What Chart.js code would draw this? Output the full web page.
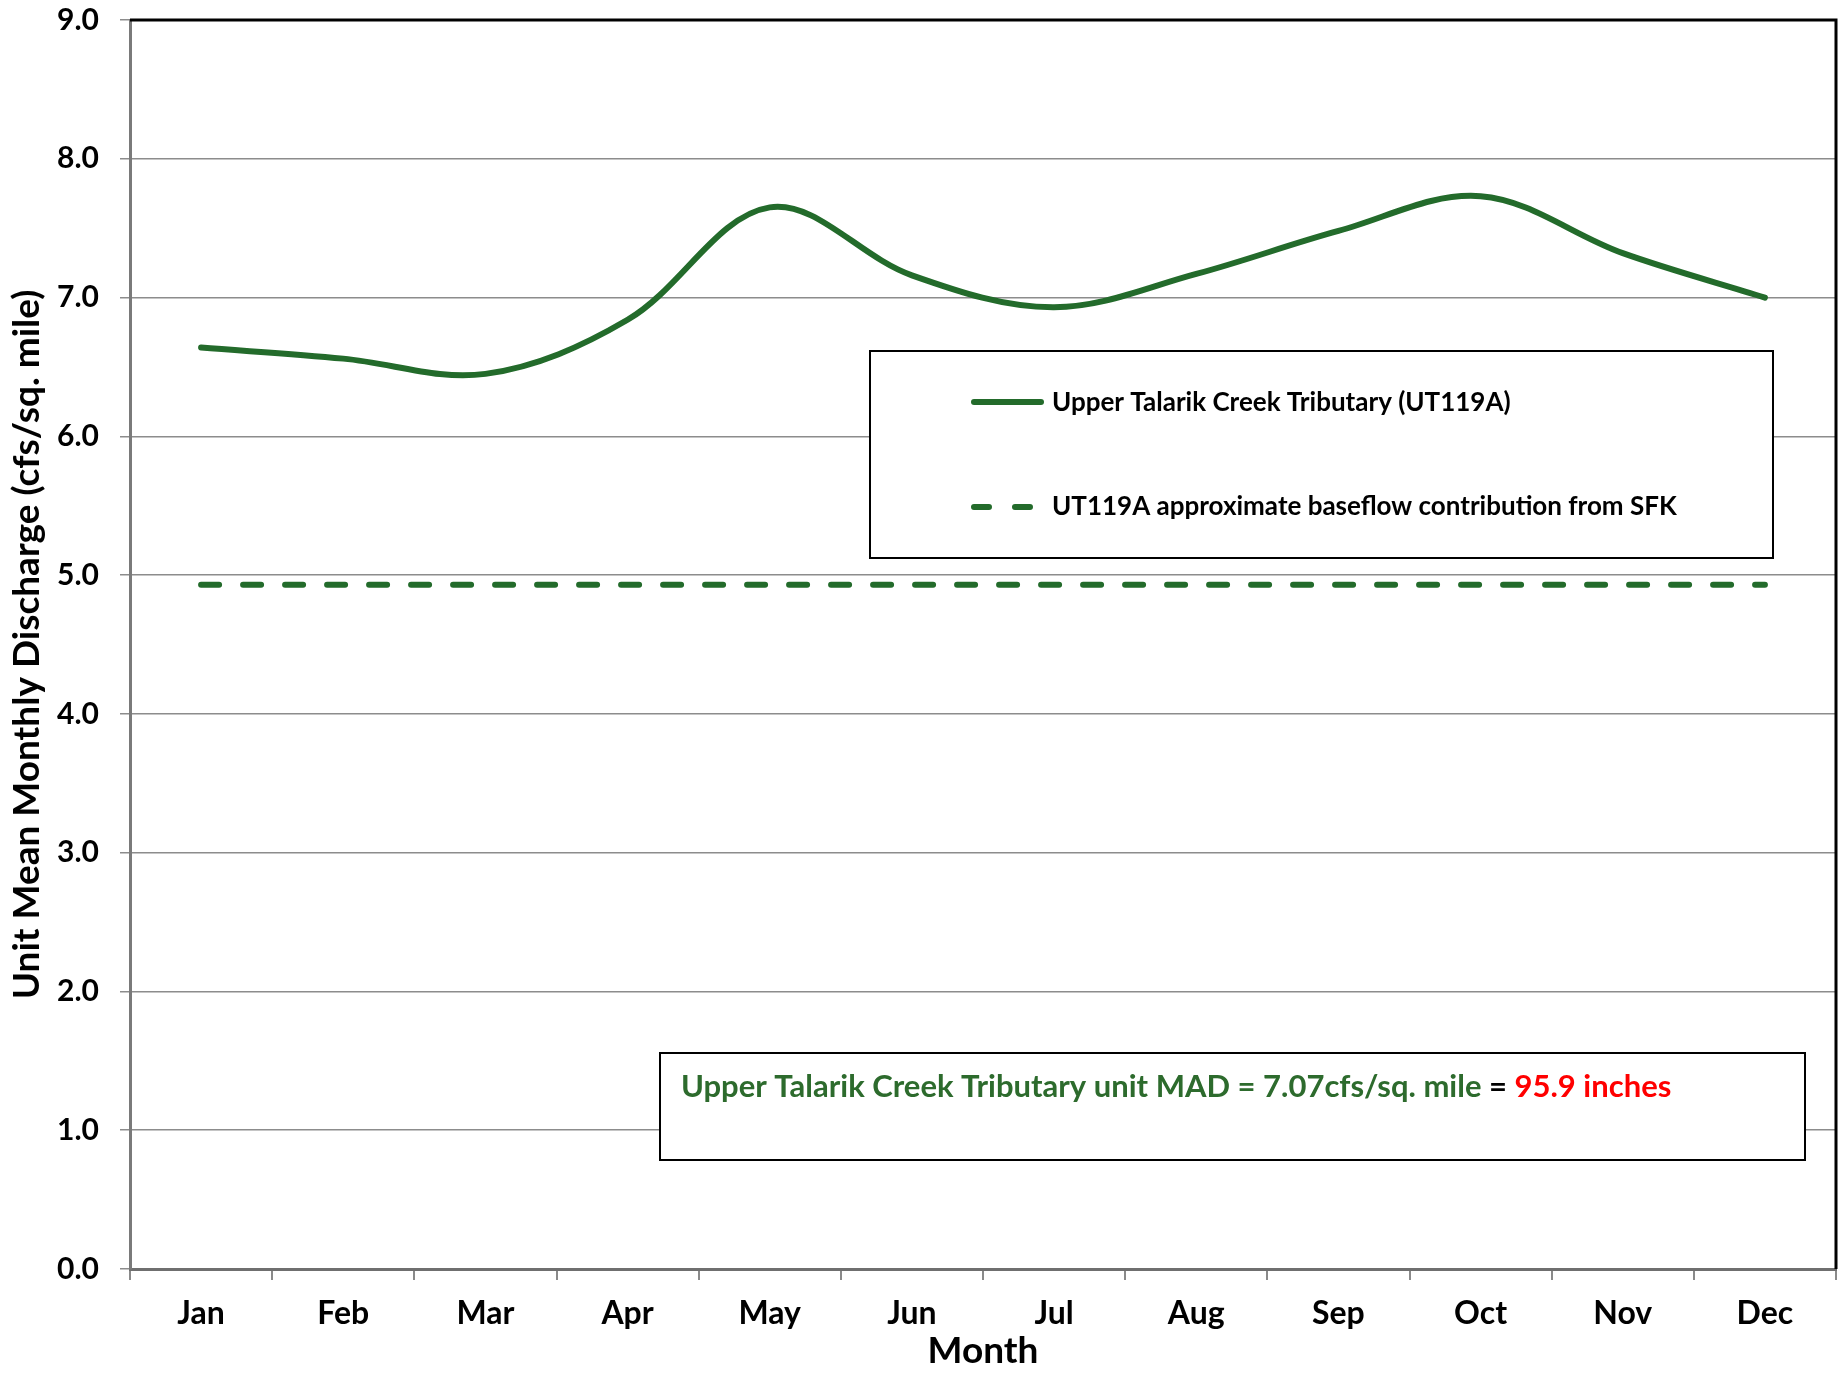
<!DOCTYPE html>
<html>
<head>
<meta charset="utf-8">
<script src="https://cdn.jsdelivr.net/npm/chart.js@4.4.1/dist/chart.umd.min.js"></script>
<style>
html,body{margin:0;padding:0;background:#ffffff;}
#wrap{width:1839px;height:1373px;position:relative;}
</style>
</head>
<body>
<div id="wrap"><canvas id="c" width="1839" height="1373"></canvas></div>
<script>
// ---- data ----
const months = ["Jan","Feb","Mar","Apr","May","Jun","Jul","Aug","Sep","Oct","Nov","Dec"];
const unitDischarge = [6.64, 6.56, 6.45, 6.84, 7.65, 7.16, 6.93, 7.17, 7.48, 7.73, 7.32, 7.00];
const baseflow = [4.93, 4.93, 4.93, 4.93, 4.93, 4.93, 4.93, 4.93, 4.93, 4.93, 4.93, 4.93];
const yMin = 0, yMax = 9, yStep = 1;
const seriesNames = ["Upper Talarik Creek Tributary (UT119A)", "UT119A approximate baseflow contribution from SFK"];
const yTitle = "Unit Mean Monthly Discharge (cfs/sq. mile)";
const xTitle = "Month";
const madGreen = "Upper Talarik Creek Tributary unit MAD = 7.07cfs/sq. mile";
const madEq = " = ";
const madRed = "95.9 inches";

const GREEN = "#236b2b";
const FONT = 'Lato, "Open Sans", "DejaVu Sans", sans-serif';
Chart.defaults.font.family = FONT;

const overlay = {
  id: 'overlay',
  afterDraw(chart) {
    const ctx = chart.ctx;
    const a = chart.chartArea;
    ctx.save();
    // top and right plot borders
    ctx.strokeStyle = '#000';
    ctx.lineWidth = 3;
    ctx.beginPath();
    ctx.moveTo(a.left, a.top);
    ctx.lineTo(a.right, a.top);
    ctx.lineTo(a.right, a.bottom);
    ctx.stroke();

    // legend box
    ctx.fillStyle = '#fff';
    ctx.fillRect(870, 351, 903, 207);
    ctx.lineWidth = 2;
    ctx.strokeStyle = '#000';
    ctx.strokeRect(870, 351, 903, 207);
    ctx.lineCap = 'round';
    ctx.strokeStyle = GREEN;
    ctx.lineWidth = 6;
    ctx.beginPath();
    ctx.moveTo(974, 402); ctx.lineTo(1041, 402);
    ctx.stroke();
    ctx.setLineDash([15, 26]);
    ctx.beginPath();
    ctx.moveTo(974, 507); ctx.lineTo(1036, 507);
    ctx.stroke();
    ctx.setLineDash([]);
    ctx.fillStyle = '#000';
    ctx.font = 'bold 26px ' + FONT;
    ctx.textBaseline = 'middle';
    ctx.textAlign = 'left';
    ctx.fillText(seriesNames[0], 1052, 403);
    ctx.fillText(seriesNames[1], 1052, 507);

    // MAD annotation box
    ctx.fillStyle = '#fff';
    ctx.fillRect(660, 1053, 1145, 107);
    ctx.lineWidth = 2;
    ctx.strokeStyle = '#000';
    ctx.strokeRect(660, 1053, 1145, 107);
    ctx.font = 'bold 31px ' + FONT;
    let x = 681;
    ctx.fillStyle = '#2d6b2d';
    ctx.fillText(madGreen, x, 1087);
    x += ctx.measureText(madGreen).width;
    ctx.fillStyle = '#000';
    ctx.fillText(madEq, x, 1087);
    x += ctx.measureText(madEq).width;
    ctx.fillStyle = '#ff0000';
    ctx.fillText(madRed, x, 1087);
    ctx.restore();
  }
};

new Chart(document.getElementById('c'), {
  type: 'line',
  data: {
    labels: months,
    datasets: [
      {
        label: seriesNames[0],
        data: unitDischarge,
        borderColor: GREEN,
        borderWidth: 6,
        pointRadius: 0,
        tension: 0.35,
        borderCapStyle: 'round',
        borderJoinStyle: 'round',
        fill: false
      },
      {
        label: seriesNames[1],
        data: baseflow,
        borderColor: GREEN,
        borderWidth: 6,
        borderDash: [18, 24],
        borderCapStyle: 'round',
        pointRadius: 0,
        tension: 0,
        fill: false
      }
    ]
  },
  options: {
    responsive: false,
    animation: false,
    devicePixelRatio: 1,
    layout: { padding: { left: 0, top: 0, right: 3, bottom: 0 } },
    plugins: { legend: { display: false }, tooltip: { enabled: false } },
    scales: {
      x: {
        type: 'category',
        offset: true,
        afterFit(s) { s.height = 104; },
        grid: { offset: true, drawOnChartArea: false, drawTicks: true, tickLength: 11, color: '#8a8a8a', lineWidth: 2 },
        border: { display: true, color: '#6f6f6f', width: 3 },
        ticks: { color: '#000', font: { size: 32, weight: 'bold' }, padding: 14, maxRotation: 0, autoSkip: false },
        title: { display: true, text: xTitle, color: '#000', font: { size: 37, weight: 'bold' }, padding: { top: 0, bottom: 0 } }
      },
      y: {
        min: yMin, max: yMax,
        afterFit(s) { s.width = 130; s.paddingTop = 20; s.paddingBottom = 0; },
        grid: { color: '#8c8c8c', lineWidth: 1.5, drawTicks: true, tickLength: 10 },
        border: { display: true, color: '#7a7a7a', width: 3 },
        ticks: { stepSize: yStep, color: '#000', font: { size: 30, weight: 'bold' }, padding: 21, callback: v => Number(v).toFixed(1) },
        title: { display: true, text: yTitle, color: '#000', font: { size: 37, weight: 'bold' }, padding: { top: 5, bottom: 0 } }
      }
    }
  },
  plugins: [overlay]
});
</script>
</body>
</html>
